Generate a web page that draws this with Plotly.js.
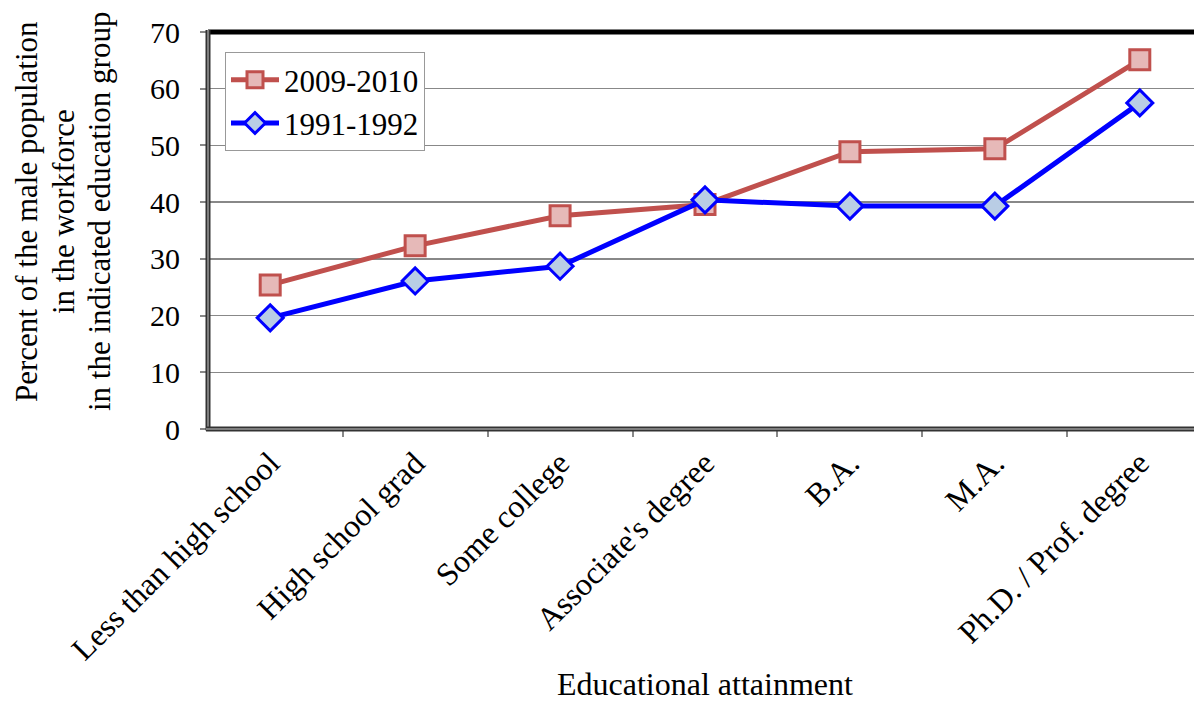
<!DOCTYPE html>
<html><head><meta charset="utf-8">
<script src="https://cdn.plot.ly/plotly-3.0.1.min.js"></script>
<style>html,body{margin:0;padding:0;overflow:hidden;background:#fff;width:1194px;height:701px}</style>
</head><body><div id="chart" style="width:1202px;height:701px"></div>
<script>
const categories = ["Less than high school","High school grad","Some college","Associate's degree","B.A.","M.A.","Ph.D. / Prof. degree"];
const series2009 = [25.4, 32.3, 37.6, 39.6, 48.9, 49.4, 65.1];
const series1991 = [19.6, 26.1, 28.7, 40.4, 39.3, 39.3, 57.5];
const yTicks = [0,10,20,30,40,50,60,70];
const yTitleLines = ["Percent of the male population", "in the workforce", "in the indicated education group"];
const xTitle = "Educational attainment";

const F = "Liberation Serif, Times New Roman, serif";
const traces = [
  {x: categories, y: series2009, name: "2009-2010", type: "scatter", mode: "lines+markers",
   line: {color: "#c0504d", width: 5},
   marker: {symbol: "square", size: 20, color: "#e6b9b8", line: {color: "#c0504d", width: 3}}},
  {x: categories, y: series1991, name: "1991-1992", type: "scatter", mode: "lines+markers",
   line: {color: "#0000ff", width: 5},
   marker: {symbol: "diamond", size: 20, color: "#b9cde5", line: {color: "#0000ff", width: 3}}}
];
const W = 1202, L = 208, PW = W - L, T = 32, PH = 397;
const px2x = p => (p - L) / PW;
const py2y = p => (T + PH - p) / PH;
const titleX = [26, 63, 99];
const annotations = yTitleLines.map((t, i) => ({
  text: t, xref: "paper", yref: "paper", x: px2x(titleX[i]), y: py2y(212),
  xanchor: "center", yanchor: "middle", textangle: -90, showarrow: false,
  font: {family: F, size: 31, color: "#000"}
}));
annotations.push({text: xTitle, xref: "paper", yref: "paper", x: 0.5, y: py2y(684),
  xanchor: "center", yanchor: "middle", showarrow: false, font: {family: F, size: 32, color: "#000"}});

const layout = {
  width: W, height: 701,
  margin: {l: L, r: 0, t: T, b: 701 - T - PH},
  paper_bgcolor: "#fff", plot_bgcolor: "#fff",
  font: {family: F, color: "#000", size: 30},
  showlegend: true,
  legend: {x: px2x(225), y: py2y(52), xanchor: "left", yanchor: "top", bgcolor: "#fff",
    bordercolor: "#999", borderwidth: 1, font: {family: F, size: 31}, tracegroupgap: 0, itemwidth: 48},
  xaxis: {type: "category", tickangle: -45, tickson: "boundaries", ticks: "outside", ticklen: 7,
    tickcolor: "#888", tickwidth: 2, showgrid: false, zeroline: false, showline: false,
    tickfont: {family: F, size: 32}, automargin: false, ticklabelstandoff: 8},
  yaxis: {range: [0, 70], tickvals: yTicks, ticktext: yTicks.map(String), ticks: "outside", ticklen: 7,
    tickcolor: "#888", tickwidth: 2, showgrid: true, gridcolor: "#888", gridwidth: 1.5, zeroline: false,
    showline: false, tickfont: {family: F, size: 30}, automargin: false, ticklabelstandoff: 14},
  annotations: annotations,
  shapes: [
    {type: "line", xref: "paper", yref: "paper", x0: 0, x1: 1, y0: 1, y1: 1, line: {color: "#000", width: 5}},
    {type: "line", xref: "paper", yref: "paper", x0: 0, x1: 0, y0: -0.004, y1: 1.005, line: {color: "#333", width: 5}},
    {type: "line", xref: "paper", yref: "paper", x0: 0, x1: 0, y0: -0.004, y1: 1.005, line: {color: "#999", width: 1.5}},
    {type: "line", xref: "paper", yref: "paper", x0: -0.002, x1: 1, y0: 0, y1: 0, line: {color: "#333", width: 5}},
    {type: "line", xref: "paper", yref: "paper", x0: -0.002, x1: 1, y0: 0, y1: 0, line: {color: "#999", width: 1.5}}
  ]
};
Plotly.newPlot("chart", traces, layout, {displayModeBar: false, staticPlot: true});
</script></body></html>
